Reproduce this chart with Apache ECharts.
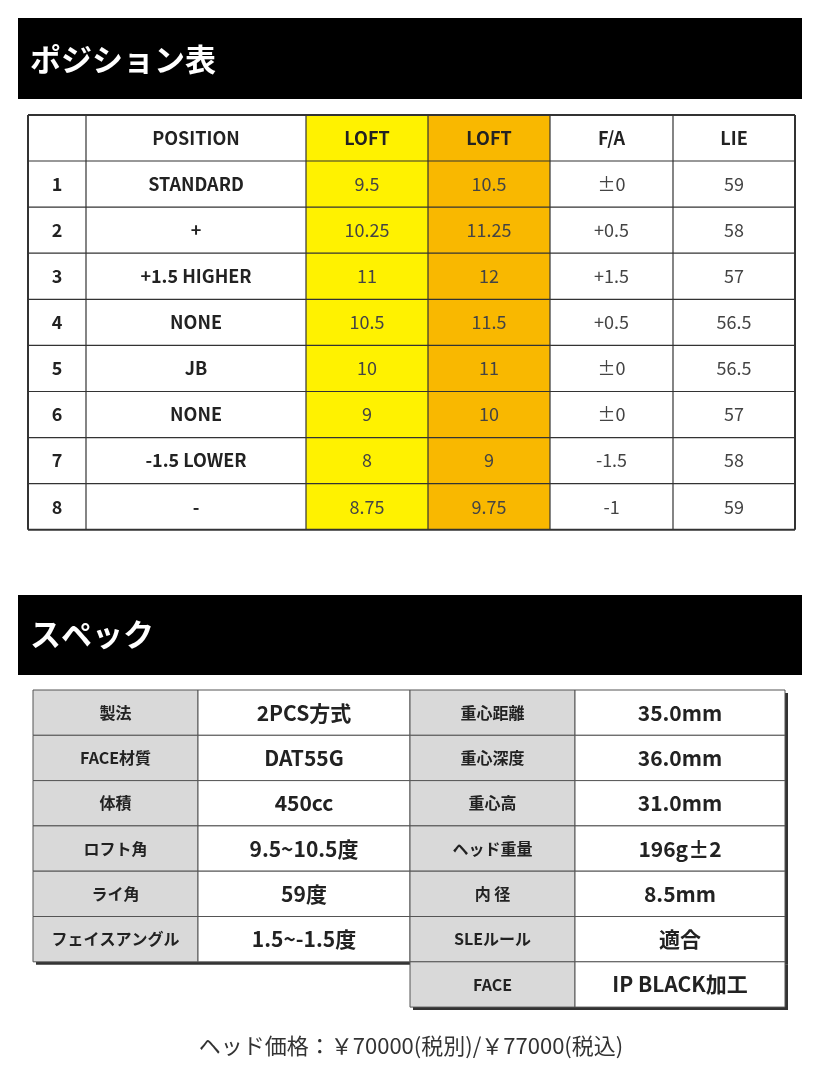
<!DOCTYPE html>
<html><head><meta charset="utf-8">
<script src="https://cdn.jsdelivr.net/npm/echarts@6/dist/echarts.min.js"></script>
<style>html,body{margin:0;padding:0;background:#fff}#c{width:822px;height:1080px}</style>
</head><body><div id="c"></div>
<script>
const title1 = "ポジション表";
const title2 = "スペック";
const posHeaders = ["", "POSITION", "LOFT", "LOFT", "F/A", "LIE"];
const positions = ["STANDARD", "+", "+1.5 HIGHER", "NONE", "JB", "NONE", "-1.5 LOWER", "-"];
const loftA = ["9.5", "10.25", "11", "10.5", "10", "9", "8", "8.75"];
const loftB = ["10.5", "11.25", "12", "11.5", "11", "10", "9", "9.75"];
const faAngle = ["±0", "+0.5", "+1.5", "+0.5", "±0", "±0", "-1.5", "-1"];
const lie = ["59", "58", "57", "56.5", "56.5", "57", "58", "59"];
const specLabelsL = ["製法", "FACE材質", "体積", "ロフト角", "ライ角", "フェイスアングル"];
const specValuesL = ["2PCS方式", "DAT55G", "450cc", "9.5~10.5度", "59度", "1.5~-1.5度"];
const specLabelsR = ["重心距離", "重心深度", "重心高", "ヘッド重量", "内 径", "SLEルール", "FACE"];
const specValuesR = ["35.0mm", "36.0mm", "31.0mm", "196g±2", "8.5mm", "適合", "IP BLACK加工"];
const footer = "ヘッド価格：￥70000(税別)/￥77000(税込)";

const F = '"Noto Sans CJK JP","Noto Sans",sans-serif';
const g = [];
function rect(x,y,w,h,fill,stroke,lw){g.push({type:'rect',shape:{x,y,width:w,height:h},style:{fill:fill||'none',stroke:stroke||null,lineWidth:lw||0}});}
function txt(x,y,t,size,opt){opt=opt||{};g.push({type:'text',x,y,style:{text:t,fill:opt.color||'#222',font:(opt.weight||'normal')+' '+size+'px '+F,textAlign:opt.align||'center',textVerticalAlign:'middle'}});}
function line(x1,y1,x2,y2,c,w){g.push({type:'line',shape:{x1,y1,x2,y2},style:{stroke:c,lineWidth:w}});}

// Header bars
rect(18,18,784,81,'#000');
txt(30,59,title1,31,{color:'#fff',weight:'bold',align:'left'});
rect(18,595,784,80,'#000');
txt(30,634,title2,31,{color:'#fff',weight:'bold',align:'left'});

// Position table
const cx=[28,86,306,428,550,673,795];
const ry=[115,161]; for(let i=1;i<=8;i++) ry.push(161+i*46.1);
rect(cx[2],ry[0],cx[3]-cx[2],ry[9]-ry[0],'#FFF200');
rect(cx[3],ry[0],cx[4]-cx[3],ry[9]-ry[0],'#F9B800');
for(let i=0;i<cx.length;i++) line(cx[i],ry[0],cx[i],ry[9],'#333',(i==0||i==6)?2:1.2);
for(let j=0;j<ry.length;j++) line(cx[0],ry[j],cx[6],ry[j],'#333',(j==0||j==9)?2:1.2);
posHeaders.forEach((h,i)=>txt((cx[i]+cx[i+1])/2,(ry[0]+ry[1])/2,h,18,{weight:'bold'}));
for(let r=0;r<8;r++){
  const y=(ry[r+1]+ry[r+2])/2;
  txt((cx[0]+cx[1])/2,y,String(r+1),18,{weight:'bold'});
  txt((cx[1]+cx[2])/2,y,positions[r],18,{weight:'bold'});
  txt((cx[2]+cx[3])/2,y,loftA[r],18,{color:'#444'});
  txt((cx[3]+cx[4])/2,y,loftB[r],18,{color:'#444'});
  txt((cx[4]+cx[5])/2,y,faAngle[r],18,{color:'#444'});
  txt((cx[5]+cx[6])/2,y,lie[r],18,{color:'#444'});
}

// Spec table
const sx=[33,198,410,575,785];
const sy=[]; for(let i=0;i<=7;i++) sy.push(690+i*45.3);
// shadows
rect(sx[0]+3,sy[0]+3,sx[4]-sx[0],sy[6]-sy[0],'#333');
rect(sx[2]+3,sy[6]+3,sx[4]-sx[2],sy[7]-sy[6],'#333');
rect(sx[0],sy[0],sx[4]-sx[0],sy[6]-sy[0],'#fff');
rect(sx[2],sy[6],sx[4]-sx[2],sy[7]-sy[6],'#fff');
for(let r=0;r<7;r++){
  if(r<6){rect(sx[0],sy[r],sx[1]-sx[0],sy[r+1]-sy[r],'#D9D9D9','#555',1);
    rect(sx[1],sy[r],sx[2]-sx[1],sy[r+1]-sy[r],'#fff','#555',1);}
  rect(sx[2],sy[r],sx[3]-sx[2],sy[r+1]-sy[r],'#D9D9D9','#555',1);
  rect(sx[3],sy[r],sx[4]-sx[3],sy[r+1]-sy[r],'#fff','#555',1);
  const y=(sy[r]+sy[r+1])/2;
  if(r<6){txt((sx[0]+sx[1])/2,y,specLabelsL[r],16,{weight:'bold'});
    txt((sx[1]+sx[2])/2,y,specValuesL[r],21,{weight:'bold'});}
  txt((sx[2]+sx[3])/2,y,specLabelsR[r],16,{weight:'bold'});
  txt((sx[3]+sx[4])/2,y,specValuesR[r],21,{weight:'bold'});
}
txt(411,1046,footer,22,{color:'#333'});

const chart=echarts.init(document.getElementById('c'));
chart.setOption({animation:false,graphic:g});
</script></body></html>
